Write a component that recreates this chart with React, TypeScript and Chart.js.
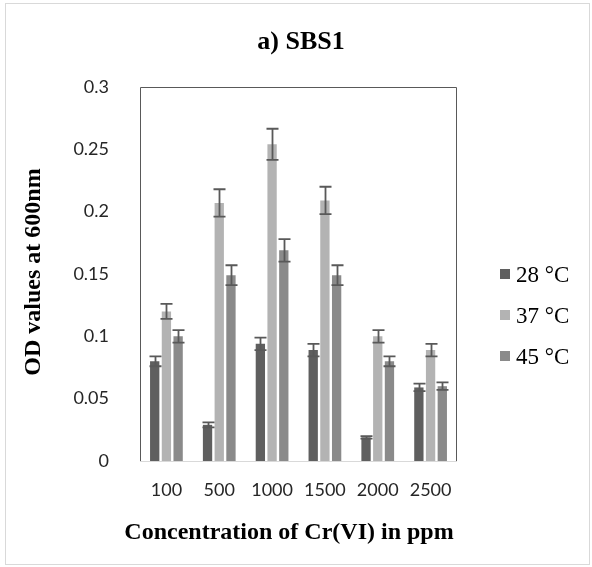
import React, { useEffect, useRef } from "react";
import { Chart, registerables } from "chart.js";
Chart.register(...registerables);

const categories = ["100", "500", "1000", "1500", "2000", "2500"];
const seriesNames = ["28 °C", "37 °C", "45 °C"];
const t28 = [0.08, 0.029, 0.094, 0.089, 0.019, 0.059];
const t37 = [0.12, 0.207, 0.254, 0.209, 0.1, 0.089];
const t45 = [0.1, 0.149, 0.169, 0.149, 0.08, 0.06];
const e28 = [0.004, 0.002, 0.005, 0.005, 0.001, 0.003];
const e37 = [0.006, 0.011, 0.0125, 0.011, 0.005, 0.005];
const e45 = [0.005, 0.008, 0.009, 0.008, 0.004, 0.003];
const yTickLabels = ["0", "0.05", "0.1", "0.15", "0.2", "0.25", "0.3"];
const colors = ["#5f5f5f", "#b3b3b3", "#8a8a8a"];
const errors = [e28, e37, e45];

const chartTitle = "a) SBS1";
const xTitle = "Concentration of Cr(VI) in ppm";
const yTitle = "OD values at 600nm";

const decor = {
  id: "decor",
  afterDatasetsDraw(chart: any) {
    const ctx = chart.ctx;
    const a = chart.chartArea;
    const ys = chart.scales.y;
    ctx.save();
    // error bars
    ctx.strokeStyle = "#595959";
    ctx.lineWidth = 1.8;
    chart.data.datasets.forEach((ds: any, i: number) => {
      const meta = chart.getDatasetMeta(i);
      meta.data.forEach((bar: any, j: number) => {
        const v = ds.data[j];
        const e = errors[i][j];
        const yt = ys.getPixelForValue(v + e);
        const yb = ys.getPixelForValue(v - e);
        const x = Math.round(bar.x) + 0.5;
        ctx.beginPath();
        ctx.moveTo(x, yt);
        ctx.lineTo(x, yb);
        ctx.moveTo(x - 6, yt);
        ctx.lineTo(x + 6, yt);
        ctx.moveTo(x - 6, yb);
        ctx.lineTo(x + 6, yb);
        ctx.stroke();
      });
    });
    // plot area border
    ctx.lineWidth = 1;
    ctx.strokeStyle = "#595959";
    ctx.beginPath();
    ctx.moveTo(a.left + 0.5, a.bottom);
    ctx.lineTo(a.left + 0.5, a.top + 0.5);
    ctx.lineTo(a.right - 0.5, a.top + 0.5);
    ctx.lineTo(a.right - 0.5, a.bottom);
    ctx.stroke();
    ctx.strokeStyle = "#d9d9d9";
    ctx.beginPath();
    ctx.moveTo(a.left, a.bottom + 0.5);
    ctx.lineTo(a.right, a.bottom + 0.5);
    ctx.stroke();
    // outer border
    ctx.strokeStyle = "#d9d9d9";
    ctx.strokeRect(5.5, 3.5, 584, 561);
    // titles
    ctx.fillStyle = "#000";
    ctx.textAlign = "center";
    ctx.textBaseline = "alphabetic";
    ctx.font = "bold 26px 'Liberation Serif'";
    ctx.fillText(chartTitle, 301, 49);
    ctx.font = "bold 24px 'Liberation Serif'";
    ctx.fillText(xTitle, 289, 539);
    ctx.save();
    ctx.translate(40, 272);
    ctx.rotate(-Math.PI / 2);
    ctx.fillText(yTitle, 0, 0);
    ctx.restore();
    // legend
    ctx.textAlign = "left";
    ctx.font = "23px 'Liberation Serif'";
    chart.data.datasets.forEach((ds: any, i: number) => {
      const cy = 274 + i * 41;
      ctx.fillStyle = ds.backgroundColor;
      ctx.fillRect(500, cy - 5, 10, 10);
      ctx.fillStyle = "#000";
      ctx.fillText(ds.label, 516, cy + 8);
    });
    ctx.restore();
  },
};

export default function App() {
  const ref = useRef<HTMLCanvasElement>(null);
  useEffect(() => {
    const canvas = ref.current!;
    const chart = new Chart(canvas, {
      type: "bar",
      data: {
        labels: categories,
        datasets: [t28, t37, t45].map((d, i) => ({
          label: seriesNames[i],
          data: d,
          backgroundColor: colors[i],
          categoryPercentage: 0.665,
          barPercentage: 0.795,
        })),
      },
      options: {
        animation: false,
        responsive: false,
        layout: { padding: { left: 50, right: 135, top: 87, bottom: 66 } },
        plugins: { legend: { display: false }, tooltip: { enabled: false }, title: { display: false } },
        scales: {
          x: {
            grid: { display: false },
            border: { display: false },
            ticks: { font: { family: "Lato", size: 18 }, color: "#262626", padding: 10 },
            afterFit: (s: any) => { s.height = 40; },
          },
          y: {
            min: 0,
            max: 0.3,
            grid: { display: false },
            border: { display: false },
            ticks: {
              stepSize: 0.05,
              font: { family: "Lato", size: 18 },
              color: "#262626",
              padding: 23,
              callback: (_v: any, i: number) => yTickLabels[i],
            },
            afterFit: (s: any) => { s.width = 90; },
          },
        },
      } as any,
      plugins: [decor],
    });
    return () => chart.destroy();
  }, []);
  return (
    <div style={{ position: "absolute", left: 0, top: 0, width: 592, height: 567, background: "#fff" }}>
      <canvas ref={ref} width={592} height={567} style={{ display: "block" }} />
    </div>
  );
}
